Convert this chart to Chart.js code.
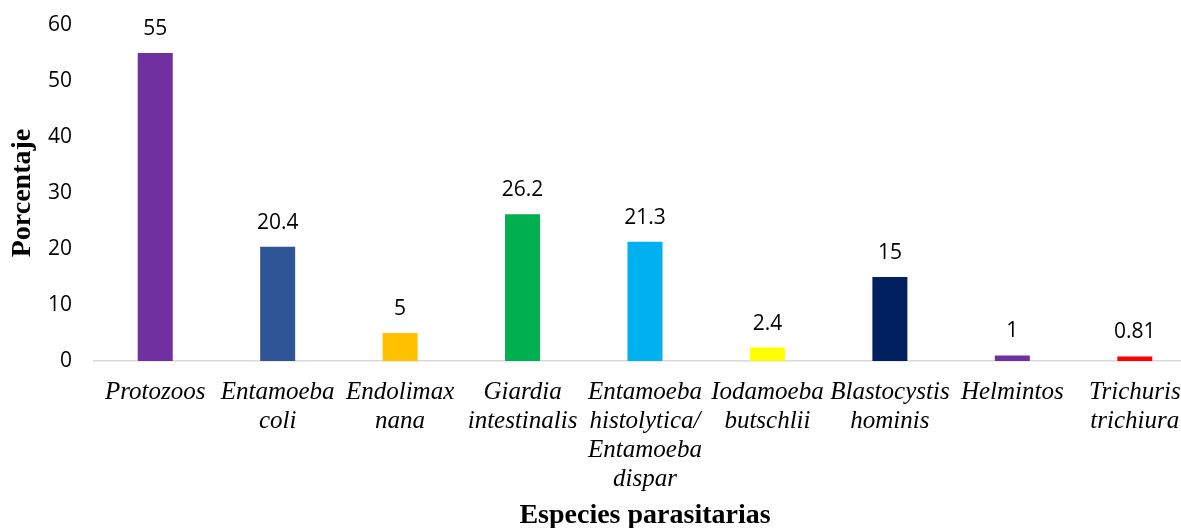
<!DOCTYPE html>
<html><head><meta charset="utf-8">
<script src="https://cdn.jsdelivr.net/npm/chart.js@4"></script>
<style>html,body{margin:0;padding:0;background:#fff;overflow:hidden}#w{width:1196px;height:528px}</style>
</head><body><div id="w"><canvas id="c"></canvas></div>
<script>
const categories = [
  ["Protozoos"], ["Entamoeba","coli"], ["Endolimax","nana"], ["Giardia","intestinalis"],
  ["Entamoeba","histolytica/","Entamoeba","dispar"], ["Iodamoeba","butschlii"],
  ["Blastocystis","hominis"], ["Helmintos"], ["Trichuris","trichiura"]
];
const values = [55, 20.4, 5, 26.2, 21.3, 2.4, 15, 1, 0.81];
const barColors = ["#7030A0","#2F5597","#FFC000","#00B050","#00B0F0","#FFFF00","#002060","#7030A0","#FF0000"];
const yTicks = [0,10,20,30,40,50,60];

const labelPlugin = {
  id: 'vals',
  afterDatasetsDraw(chart){
    const ctx = chart.ctx;
    const meta = chart.getDatasetMeta(0);
    ctx.save();
    ctx.font = '21px "Open Sans", sans-serif';
    ctx.fillStyle = '#000';
    ctx.textAlign = 'center';
    ctx.textBaseline = 'alphabetic';
    meta.data.forEach((el,i)=>{
      ctx.fillText(String(values[i]), el.x, el.y - 18);
    });
    ctx.restore();
  }
};

new Chart(document.getElementById('c'), {
  type: 'bar',
  data: { labels: categories, datasets: [{ data: values, backgroundColor: barColors, borderWidth: 0,
    categoryPercentage: 1, barPercentage: 0.286 }] },
  options: {
    responsive: true, maintainAspectRatio: false, animation: false,
    layout: { padding: { left: 0, right: 0, top: 25, bottom: 0 } },
    plugins: { legend: { display: false }, tooltip: { enabled: false } },
    scales: {
      x: {
        afterFit(s){ s.height = 167; s.paddingTop = 0; s.paddingBottom = 0; s.paddingLeft = 0; s.paddingRight = 0; },
        grid: { display: false, drawTicks: false },
        border: { display: true, color: '#d9d9d9', width: 1.5 },
        ticks: { color: '#000', maxRotation: 0, autoSkip: false, padding: 17,
          font: { family: '"Liberation Serif", serif', style: 'italic', size: 25, lineHeight: 1.16 } },
        title: { display: true, text: 'Especies parasitarias', color: '#000', padding: { top: 0, bottom: 0 },
          font: { family: '"Liberation Serif", serif', weight: 'bold', size: 28, lineHeight: 0.85 } }
      },
      y: {
        min: 0, max: 60,
        afterFit(s){ s.width = 94; s.paddingTop = 0; s.paddingBottom = 0; },
        afterBuildTicks(s){ s.ticks = yTicks.map(v=>({value:v})); },
        grid: { display: false, drawTicks: false },
        border: { display: false },
        ticks: { color: '#000', padding: 22, font: { family: '"Open Sans", sans-serif', size: 21 } },
        title: { display: true, text: 'Porcentaje', color: '#000', padding: { top: 9, bottom: 0 },
          font: { family: '"Liberation Serif", serif', weight: 'bold', size: 28, lineHeight: 1 } }
      }
    }
  },
  plugins: [labelPlugin]
});
</script></body></html>
